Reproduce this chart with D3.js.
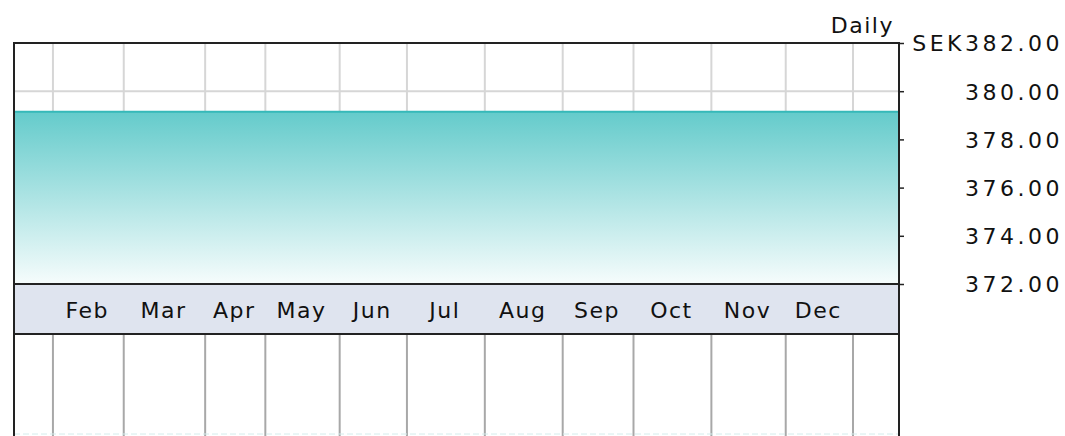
<!DOCTYPE html>
<html>
<head>
<meta charset="utf-8">
<script src="https://cdn.jsdelivr.net/npm/d3@7"></script>
<style>
    body { margin: 0; background: #fff; }
    svg text { font-family: "DejaVu Sans", Verdana, sans-serif; fill: #111; }
</style>
</head>
<body>
<div id="chart"></div>
<script>
// ---------------------- DATA ----------------------

// trading days in each (partial) month shown on the x axis
const monthNames = ["Jan", "Feb", "Mar", "Apr", "May", "Jun", "Jul", "Aug", "Sep", "Oct", "Nov", "Dec", "Jan"];
const monthDays = [11, 20, 23, 17, 21, 19, 22, 22, 20, 22, 21, 19, 13];
const labelledMonths = ["Feb", "Mar", "Apr", "May", "Jun", "Jul", "Aug", "Sep", "Oct", "Nov", "Dec"];

// price is flat over the whole period
const priceDays = [0, 250];
const prices = [379.15, 379.15];

const yTicks = [372, 374, 376, 378, 380, 382];
const yDomain = [372, 382];
const currency = "SEK";
const periodLabel = "Daily";

// ---------------------- LAYOUT ----------------------
const W = 1065, H = 436;
const plotLeft = 14, plotRight = 899, plotTop = 43, plotBottom = 284, bandBottom = 334;

const svg = d3.select("#chart").append("svg")
    .attr("width", W)
    .attr("height", H);

// month boundaries as cumulative trading-day index
const boundaries = [0];
monthDays.forEach(d => boundaries.push(boundaries[boundaries.length - 1] + d));

const x = d3.scaleLinear()
    .domain([0, boundaries[boundaries.length - 1]])
    .range([plotLeft, plotRight]);

const y = d3.scaleLinear()
    .domain(yDomain)
    .range([plotBottom, plotTop]);

const inner = boundaries.slice(1, -1); // gridline positions

// ---------------------- GRID ----------------------
svg.append("g")
    .selectAll("line")
    .data(inner)
    .join("line")
    .attr("x1", d => x(d)).attr("x2", d => x(d))
    .attr("y1", plotTop).attr("y2", plotBottom)
    .attr("stroke", "#d6d6d6")
    .attr("stroke-width", 2);

svg.append("g")
    .selectAll("line")
    .data(yTicks)
    .join("line")
    .attr("x1", plotLeft).attr("x2", plotRight)
    .attr("y1", d => y(d)).attr("y2", d => y(d))
    .attr("stroke", "#d6d6d6")
    .attr("stroke-width", 2);

// ---------------------- AREA ----------------------
const grad = svg.append("defs").append("linearGradient")
    .attr("id", "fill")
    .attr("gradientUnits", "userSpaceOnUse")
    .attr("x1", 0).attr("x2", 0)
    .attr("y1", y(d3.max(prices))).attr("y2", plotBottom);
grad.append("stop").attr("offset", "0%").attr("stop-color", "#64cbcb");
grad.append("stop").attr("offset", "100%").attr("stop-color", "#f6fcfc");

const series = priceDays.map((d, i) => ({day: d, value: prices[i]}));

svg.append("path")
    .datum(series)
    .attr("fill", "url(#fill)")
    .attr("d", d3.area()
        .x(d => x(d.day))
        .y0(plotBottom)
        .y1(d => y(d.value)));

svg.append("path")
    .datum(series)
    .attr("fill", "none")
    .attr("stroke", "#36b9b9")
    .attr("stroke-width", 2)
    .attr("d", d3.line()
        .x(d => x(d.day))
        .y(d => y(d.value)));

// ---------------------- MONTH BAND ----------------------
svg.append("rect")
    .attr("x", plotLeft).attr("y", plotBottom)
    .attr("width", plotRight - plotLeft).attr("height", bandBottom - plotBottom)
    .attr("fill", "#dfe4ef");

const monthMid = labelledMonths.map(m => {
    const i = monthNames.indexOf(m);
    return {name: m, mid: (boundaries[i] + boundaries[i + 1]) / 2};
});

svg.append("g")
    .selectAll("text")
    .data(monthMid)
    .join("text")
    .attr("x", d => x(d.mid) - 1)
    .attr("y", 318)
    .attr("text-anchor", "middle")
    .style("font-size", "22px")
    .style("letter-spacing", "1.5px")
    .text(d => d.name);

// lower panel gridlines
svg.append("g")
    .selectAll("line")
    .data(inner)
    .join("line")
    .attr("x1", d => x(d)).attr("x2", d => x(d))
    .attr("y1", bandBottom).attr("y2", H)
    .attr("stroke", "#a8a8a8")
    .attr("stroke-width", 2);

svg.append("line")
    .attr("x1", plotLeft).attr("x2", plotRight)
    .attr("y1", H - 2).attr("y2", H - 2)
    .attr("stroke", "#d4ecec")
    .attr("stroke-dasharray", "6,3");

// ---------------------- FRAME ----------------------
const frame = svg.append("g")
    .attr("stroke", "#222")
    .attr("stroke-width", 2);
frame.append("line").attr("x1", plotLeft).attr("x2", plotRight).attr("y1", plotTop).attr("y2", plotTop);
frame.append("line").attr("x1", plotLeft).attr("x2", plotRight).attr("y1", plotBottom).attr("y2", plotBottom);
frame.append("line").attr("x1", plotLeft).attr("x2", plotRight).attr("y1", bandBottom).attr("y2", bandBottom);
frame.append("line").attr("x1", plotLeft).attr("x2", plotLeft).attr("y1", plotTop - 1).attr("y2", H);
frame.append("line").attr("x1", plotRight).attr("x2", plotRight).attr("y1", plotTop - 1).attr("y2", H);

// ---------------------- Y AXIS ----------------------
const yAxis = svg.append("g")
    .attr("transform", `translate(${plotRight},0)`)
    .call(d3.axisRight(y)
        .tickValues(yTicks)
        .tickSize(5)
        .tickFormat(d => (d === yDomain[1] ? currency : "") + d.toFixed(2)));

yAxis.select(".domain").remove();
yAxis.selectAll(".tick line").attr("stroke", "#222").attr("stroke-width", 1.5);
yAxis.selectAll(".tick text")
    .attr("x", 1063 - plotRight)
    .attr("dy", "0.36em")
    .attr("text-anchor", "end")
    .attr("fill", "#111")
    .style("font-family", "'DejaVu Sans', Verdana, sans-serif")
    .style("font-size", "22px")
    .style("letter-spacing", "3.5px");

svg.append("text")
    .attr("x", 894)
    .attr("y", 33)
    .attr("text-anchor", "end")
    .style("font-size", "22px")
    .style("letter-spacing", "1.5px")
    .text(periodLabel);
</script>
</body>
</html>
